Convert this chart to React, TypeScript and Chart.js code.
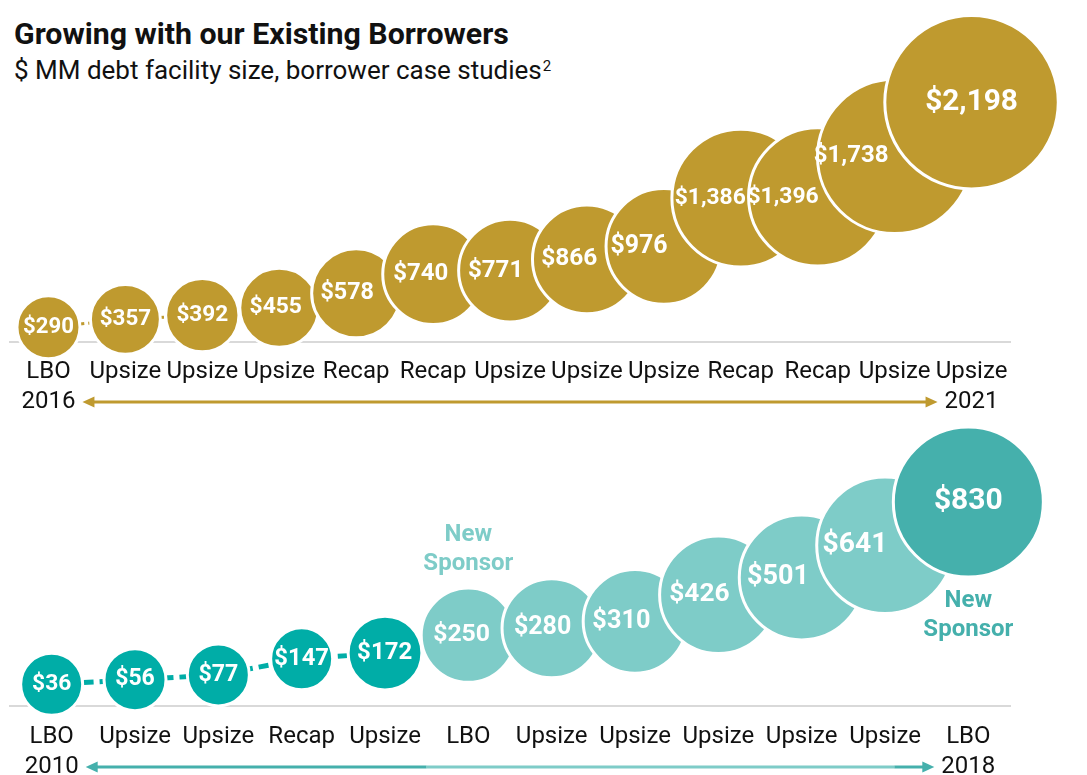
import React, { useEffect, useRef } from 'react';
import { Chart, registerables } from 'chart.js';

Chart.register(...registerables);

// ---------- data ----------
const topDealTypes = ['LBO', 'Upsize', 'Upsize', 'Upsize', 'Recap', 'Recap', 'Upsize', 'Upsize', 'Upsize', 'Recap', 'Recap', 'Upsize', 'Upsize'];
const topFacilitySizes = [290, 357, 392, 455, 578, 740, 771, 866, 976, 1386, 1396, 1738, 2198];
const topYears = ['2016', '2021'];

const bottomDealTypes = ['LBO', 'Upsize', 'Upsize', 'Recap', 'Upsize', 'LBO', 'Upsize', 'Upsize', 'Upsize', 'Upsize', 'Upsize', 'LBO'];
const bottomFacilitySizes = [36, 56, 77, 147, 172, 250, 280, 310, 426, 501, 641, 830];
const bottomSponsors = ['A', 'A', 'A', 'A', 'A', 'B', 'B', 'B', 'B', 'B', 'B', 'C'];
const bottomYears = ['2010', '2018'];

const annotationText = ['New', 'Sponsor'];

// ---------- styles ----------
const GOLD = '#BF9A2F';
const SPONSOR_FILL: Record<string, string> = { A: '#00ADA7', B: '#7ECCC8', C: '#45B0AC' };
const SPONSOR_ARROW: Record<string, string> = { A: '#45B0AC', B: '#7ECCC8', C: '#45B0AC' };
const FONT = 'Roboto';

const money = (v: number) => '$' + v.toLocaleString('en-US');

type PanelCfg = {
  types: string[];
  values: number[];
  years: string[];
  groups: string[];
  fillOf: (g: string) => string;
  arrowOf: (g: string) => string;
  radiusOf: (v: number) => number;
  fontOf: (v: number) => number;
  yMin: number;
  yMax: number;
  axisH: number;
  tickPad: number;
  dashWidth: number;
  dash: number[];
  annotate: boolean;
};

function buildPanel(canvas: HTMLCanvasElement, cfg: PanelCfg) {
  const n = cfg.values.length;
  const points = cfg.values.map((v, i) => ({ x: i, y: v }));
  const lineH = 30;

  const labelPlugin = {
    id: 'bubbleLabels',
    afterDatasetsDraw(chart: any) {
      const meta = chart.getDatasetMeta(0);
      const ctx = chart.ctx;
      ctx.save();
      ctx.textAlign = 'center';
      ctx.textBaseline = 'middle';
      meta.data.forEach((el: any, i: number) => {
        const r = el.options.radius;
        const left = el.x - r;
        let right = el.x + r;
        const next = meta.data[i + 1];
        if (next) right = Math.min(right, next.x - next.options.radius);
        const text = money(cfg.values[i]);
        const base = cfg.fontOf(cfg.values[i]);
        let size = base;
        ctx.font = `700 ${size.toFixed(1)}px ${FONT}`;
        const w = ctx.measureText(text).width;
        const room = right - left - 6;
        if (w > room) {
          size = Math.max(base * (room / w), base * 0.86);
          ctx.font = `700 ${size.toFixed(1)}px ${FONT}`;
        }
        ctx.fillStyle = '#ffffff';
        ctx.fillText(text, (left + right) / 2, el.y);
        if (cfg.annotate && i > 0 && cfg.groups[i] !== cfg.groups[i - 1]) {
          ctx.font = `700 24px ${FONT}`;
          ctx.fillStyle = cfg.fillOf(cfg.groups[i]);
          let y1: number;
          if (i === n - 1) {
            y1 = el.y + r + 24;
          } else {
            y1 = el.y - r - 24 - 29;
          }
          ctx.fillText(annotationText[0], el.x, y1);
          ctx.fillText(annotationText[1], el.x, y1 + 29);
        }
      });
      ctx.restore();
    },
  };

  const arrowPlugin = {
    id: 'timeArrow',
    afterDraw(chart: any) {
      const xs = chart.scales.x;
      const ctx = chart.ctx;
      const ticks = cfg.values.map((_, i) => xs.getPixelForTick(i));
      const x0 = ticks[0] + 34;
      const x1 = ticks[n - 1] - 34;
      const y = chart.chartArea.bottom + cfg.tickPad + lineH * 1.5;
      const head = 12;
      const stops: { x: number; g: string }[] = [{ x: x0, g: cfg.groups[0] }];
      for (let i = 1; i < n; i++) {
        if (cfg.groups[i] !== cfg.groups[i - 1]) {
          const bx = Math.min((ticks[i - 1] + ticks[i]) / 2, x1 - 40);
          stops.push({ x: bx, g: cfg.groups[i] });
        }
      }
      ctx.save();
      ctx.lineWidth = 3;
      for (let s = 0; s < stops.length; s++) {
        const sx = s === 0 ? x0 + head - 1 : stops[s].x;
        const ex = s === stops.length - 1 ? x1 - head + 1 : stops[s + 1].x;
        ctx.strokeStyle = cfg.arrowOf(stops[s].g);
        ctx.beginPath();
        ctx.moveTo(sx, y);
        ctx.lineTo(ex, y);
        ctx.stroke();
      }
      ctx.fillStyle = cfg.arrowOf(cfg.groups[0]);
      ctx.beginPath();
      ctx.moveTo(x0, y);
      ctx.lineTo(x0 + head, y - 5.5);
      ctx.lineTo(x0 + head, y + 5.5);
      ctx.closePath();
      ctx.fill();
      ctx.fillStyle = cfg.arrowOf(cfg.groups[n - 1]);
      ctx.beginPath();
      ctx.moveTo(x1, y);
      ctx.lineTo(x1 - head, y - 5.5);
      ctx.lineTo(x1 - head, y + 5.5);
      ctx.closePath();
      ctx.fill();
      ctx.restore();
    },
  };

  return new Chart(canvas, {
    type: 'bubble',
    data: {
      labels: cfg.types,
      datasets: [
        {
          type: 'bubble',
          data: points,
          order: 1,
          clip: false,
          backgroundColor: (c: any) => cfg.fillOf(cfg.groups[c.dataIndex]),
          borderColor: '#ffffff',
          borderWidth: 3,
          hoverBorderWidth: 3,
          radius: (c: any) => cfg.radiusOf(cfg.values[c.dataIndex]),
          hoverRadius: 0,
        } as any,
        {
          type: 'line',
          data: points,
          order: 2,
          clip: false,
          borderColor: cfg.fillOf(cfg.groups[0]),
          borderWidth: cfg.dashWidth,
          borderDash: cfg.dash,
          segment: { borderColor: (s: any) => cfg.fillOf(cfg.groups[s.p1DataIndex]) },
          pointRadius: 0,
          fill: false,
          tension: 0,
        } as any,
      ],
    },
    options: {
      responsive: false,
      animation: false,
      events: [],
      layout: { autoPadding: false, padding: { left: 10, right: 77, top: 0, bottom: 0 } },
      plugins: { legend: { display: false }, tooltip: { enabled: false } },
      scales: {
        x: {
          type: 'category',
          offset: true,
          grid: { display: false, drawTicks: false },
          border: { display: true, color: '#d9d9d9', width: 2 },
          ticks: {
            autoSkip: false,
            maxRotation: 0,
            minRotation: 0,
            padding: cfg.tickPad,
            color: '#111111',
            font: { family: FONT, size: 24, lineHeight: lineH / 24 },
            callback: (_v: any, i: number) =>
              i === 0 ? [cfg.types[0], cfg.years[0]] : i === n - 1 ? [cfg.types[n - 1], cfg.years[1]] : cfg.types[i],
          },
          afterFit: (s: any) => {
            s.height = cfg.axisH;
          },
        },
        y: { type: 'linear', display: false, min: cfg.yMin, max: cfg.yMax },
      },
    } as any,
    plugins: [labelPlugin, arrowPlugin],
  });
}

const topCfg: PanelCfg = {
  types: topDealTypes,
  values: topFacilitySizes,
  years: topYears,
  groups: topFacilitySizes.map(() => 'gold'),
  fillOf: () => GOLD,
  arrowOf: () => GOLD,
  radiusOf: (v) => 1.85 * Math.sqrt(v),
  fontOf: (v) => 21 + 0.004 * v,
  yMin: 165,
  yMax: 3065,
  axisH: 88,
  tickPad: 15,
  dashWidth: 3,
  dash: [6, 4],
  annotate: false,
};

const bottomCfg: PanelCfg = {
  types: bottomDealTypes,
  values: bottomFacilitySizes,
  years: bottomYears,
  groups: bottomSponsors,
  fillOf: (g) => SPONSOR_FILL[g],
  arrowOf: (g) => SPONSOR_ARROW[g],
  radiusOf: (v) => 31 + 1.7 * Math.sqrt(Math.max(0, v - 160)),
  fontOf: (v) => 22.5 + 0.009 * v,
  yMin: -58.5,
  yMax: 1273.7,
  axisH: 69,
  tickPad: 16,
  dashWidth: 5,
  dash: [10, 6],
  annotate: true,
};

export default function App() {
  const topRef = useRef<HTMLCanvasElement>(null);
  const botRef = useRef<HTMLCanvasElement>(null);

  useEffect(() => {
    const c1 = buildPanel(topRef.current as HTMLCanvasElement, topCfg);
    const c2 = buildPanel(botRef.current as HTMLCanvasElement, bottomCfg);
    return () => {
      c1.destroy();
      c2.destroy();
    };
  }, []);

  return (
    <div
      style={{
        position: 'absolute',
        left: 0,
        top: 0,
        width: 1087,
        height: 775,
        background: '#ffffff',
        fontFamily: FONT,
        color: '#111111',
        overflow: 'hidden',
      }}
    >
      <div style={{ position: 'absolute', left: 14, top: 16, fontSize: 30.3, fontWeight: 700, lineHeight: '36px', whiteSpace: 'nowrap' }}>
        Growing with our Existing Borrowers
      </div>
      <div style={{ position: 'absolute', left: 14, top: 54, fontSize: 26, fontWeight: 400, lineHeight: '32px', whiteSpace: 'nowrap' }}>
        $ MM debt facility size, borrower case studies
        <sup style={{ fontSize: 15, lineHeight: 0, verticalAlign: 'top', position: 'relative', top: 12, marginLeft: 1 }}>2</sup>
      </div>
      <canvas ref={topRef} width={1087} height={430} style={{ position: 'absolute', left: 0, top: 0 }} />
      <canvas ref={botRef} width={1087} height={375} style={{ position: 'absolute', left: 0, top: 400 }} />
    </div>
  );
}
